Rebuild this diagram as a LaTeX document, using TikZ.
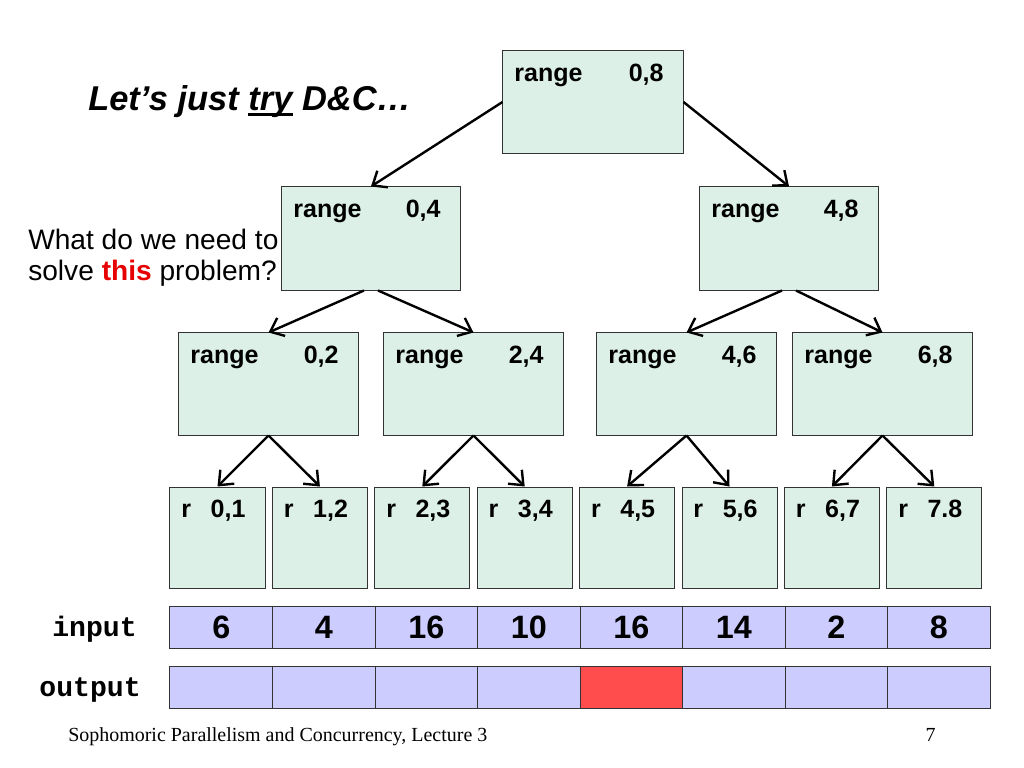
\documentclass[tikz,border=0pt]{standalone}
\usepackage{fontspec}
\setmainfont{Liberation Sans}
\setmonofont{Liberation Mono}
\newfontfamily\footfont{Liberation Serif}
\usetikzlibrary{arrows.meta,positioning,calc}
\definecolor{dcgreen}{RGB}{221,240,232}
\definecolor{dclavender}{RGB}{204,204,255}
\definecolor{dcred}{RGB}{255,77,77}
\definecolor{dcthis}{RGB}{230,0,0}
% underline just under the baseline
\newcommand{\dcul}[1]{\setbox0\hbox{#1}\rlap{\vrule height -0.07em depth 0.15em width \wd0}#1}

\begin{document}
\begin{tikzpicture}[x=0.025cm, y=-0.025cm,
  rbox/.style={draw=black!80, line width=0.7pt, fill=dcgreen,
    minimum width=4.5cm, minimum height=2.55cm, inner sep=0pt},
  leaf/.style={rbox, minimum width=2.375cm, minimum height=2.525cm},
  tagl/.style={anchor=base west, inner sep=0pt, xshift=8.3pt, yshift=-22pt,
    font=\fontsize{17.8}{20}\selectfont\bfseries},
  tagr/.style={anchor=base east, inner sep=0pt, xshift=-14pt, yshift=-22pt,
    font=\fontsize{17.8}{20}\selectfont\bfseries},
  lbl/.style 2 args={label={[tagl]north west:#1}, label={[tagr]north east:#2}},
  cell/.style={draw=black!80, line width=0.7pt, fill=dclavender,
    minimum width=2.5625cm, minimum height=1.05cm, inner sep=0pt,
    font=\fontsize{23}{26}\selectfont\bfseries},
  arr/.style={-{Straight Barb[length=8.5pt, width=14pt]}, line width=1.7pt},
  arrname/.style={anchor=base east, inner sep=0pt,
    font=\ttfamily\bfseries\fontsize{20}{22}\selectfont}
]
\useasboundingbox (0,0) rectangle (1024,768);

% Title and question
\node[anchor=base west, inner sep=0pt, font=\fontsize{24.5}{28}\selectfont\bfseries\itshape]
  (title) at (88,111) {Let’s just \dcul{try} D\&C…};
\node[anchor=north west, align=left, inner sep=0pt, font=\fontsize{20}{22}\selectfont]
  (ask) at (28,229) {What do we need to\\solve \textcolor{dcthis}{\textbf{this}} problem?};

% Tree of ranges
\node[rbox, lbl={range}{0,8}] (r08) at (593,102) {};
\node[rbox, lbl={range}{0,4}, minimum width=4.45cm, minimum height=2.575cm] (r04) at (371,238.5) {};
\node[rbox, lbl={range}{4,8}, minimum width=4.45cm, minimum height=2.575cm] (r48) at (789,238.5) {};
\node[rbox, lbl={range}{0,2}, minimum width=4.475cm] (r02) at (268.5,384) {};
\node[rbox, lbl={range}{2,4}, minimum width=4.475cm] (r24) at (473.5,384) {};
\node[rbox, lbl={range}{4,6}, minimum width=4.475cm] (r46) at (686.5,384) {};
\node[rbox, lbl={range}{6,8}, minimum width=4.475cm] (r68) at (882.5,384) {};
\foreach \t [count=\i from 0] in {{0,1},{1,2},{2,3},{3,4},{4,5},{5,6},{6,7},{7.8}}
  \node[leaf, lbl={r}{\t}] (leaf\i) at (217.5+102.4*\i,537.5) {};

% Arrows
\draw[arr] (r08.west) -- (r04.north);
\draw[arr] (r08.east) -- (r48.north);
\draw[arr] ($(r04.south)+(-7,0)$) -- (r02.north);
\draw[arr] ($(r04.south)+(7,0)$) -- (r24.north);
\draw[arr] ($(r48.south)+(-7,0)$) -- (r46.north);
\draw[arr] ($(r48.south)+(7,0)$) -- (r68.north);
\draw[arr] (r02.south) -- (leaf0.north);
\draw[arr] (r02.south) -- (leaf1.north);
\draw[arr] (r24.south) -- (leaf2.north);
\draw[arr] (r24.south) -- (leaf3.north);
\draw[arr] (r46.south) -- (leaf4.north);
\draw[arr] (r46.south) -- (leaf5.north);
\draw[arr] (r68.south) -- (leaf6.north);
\draw[arr] (r68.south) -- (leaf7.north);

% Input and output arrays
\foreach \v [count=\i from 0] in {6,4,16,10,16,14,2,8}
  \node[cell] (in\i) at (221.25+102.5*\i,627) {\v};
\foreach \c [count=\i from 0] in {dclavender,dclavender,dclavender,dclavender,dcred,dclavender,dclavender,dclavender}
  \node[cell, fill=\c] (out\i) at (221.25+102.5*\i,687) {};
\node[arrname] (inname) at (137,636) {input};
\node[arrname] (outname) at (141,696) {output};

% Footer
\node[anchor=base west, inner sep=0pt, font=\footfont\fontsize{14.2}{17}\selectfont]
  (foot) at (68,741) {Sophomoric Parallelism and Concurrency, Lecture 3};
\node[anchor=base east, inner sep=0pt, font=\footfont\fontsize{14.2}{17}\selectfont]
  (page) at (936,741) {7};
\end{tikzpicture}
\end{document}
